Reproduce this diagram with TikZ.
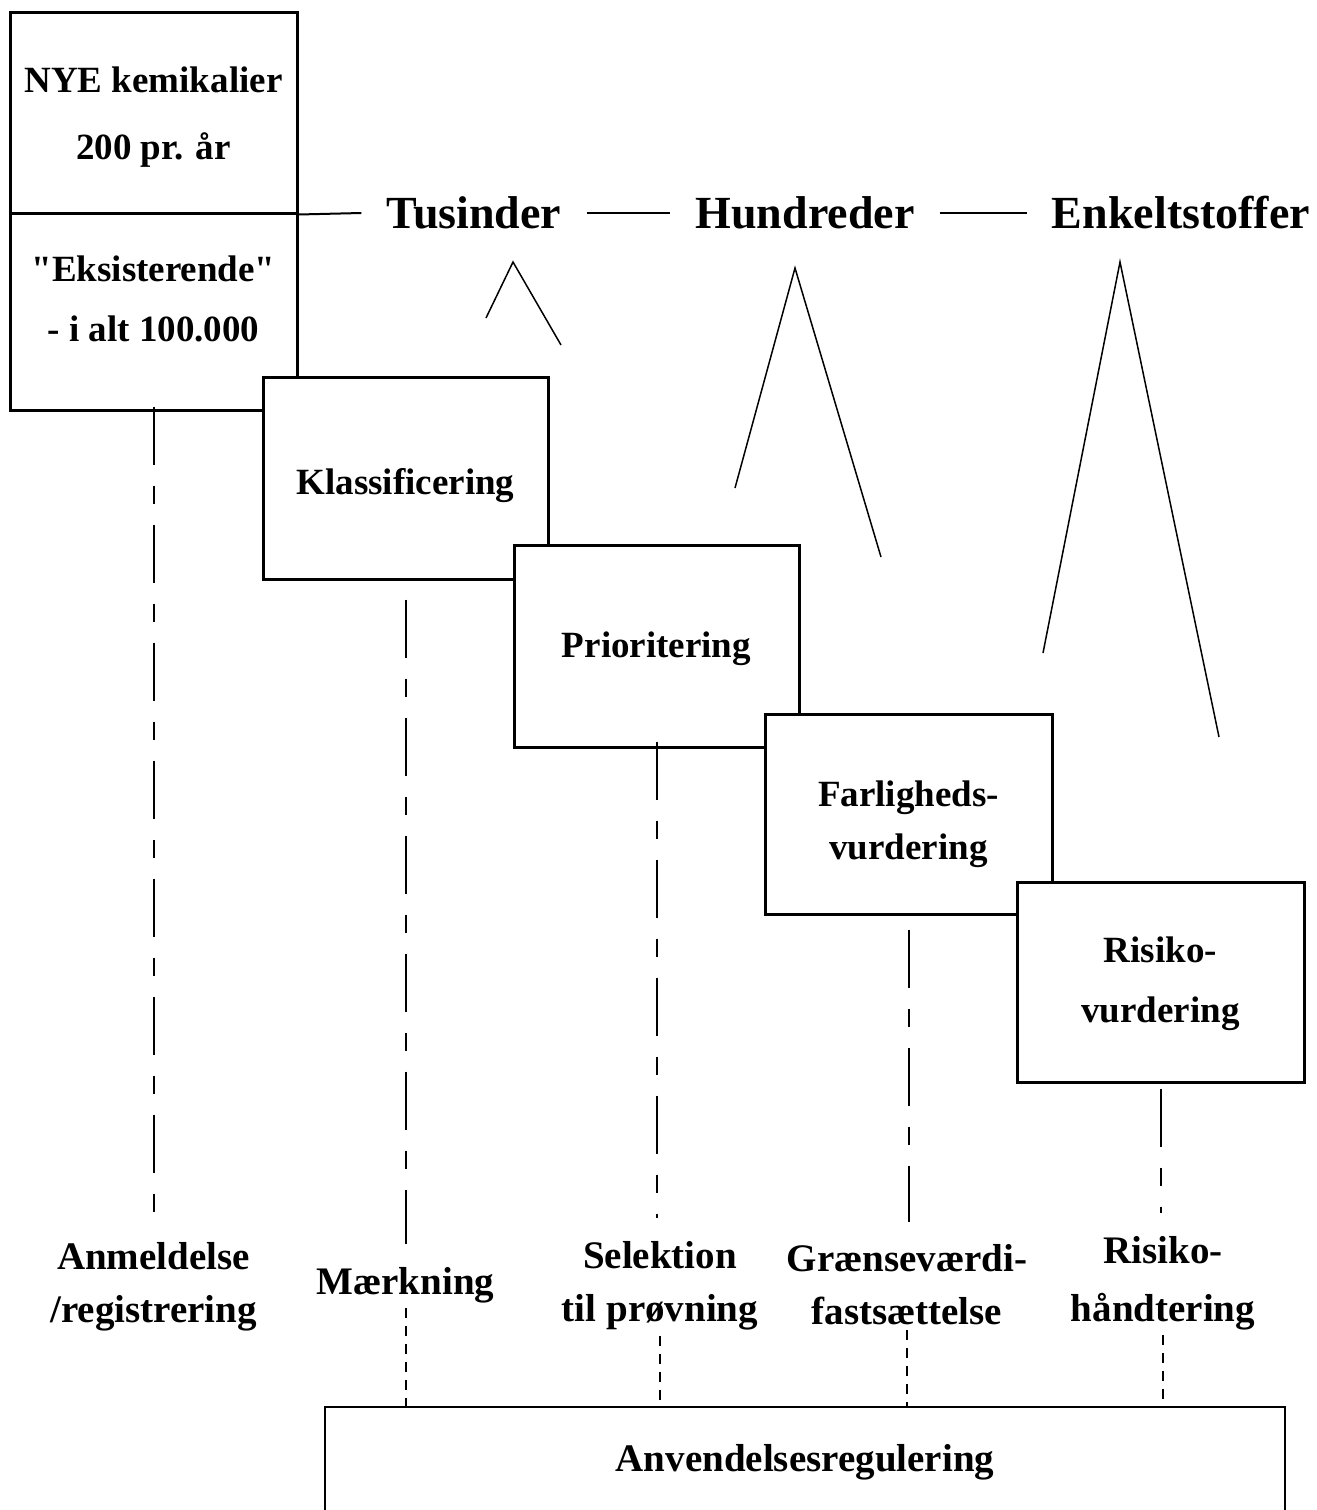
\documentclass[tikz,border=0pt]{standalone}
\usepackage{fontspec}
\setmainfont{Liberation Serif}
\usetikzlibrary{positioning}
\tikzset{stage/.style = {draw, line width=3, fill=white, inner sep=0, align=center,
                         font=\bfseries\fontsize{37}{60}\selectfont}}
\tikzset{title/.style = {inner xsep=25, font=\bfseries\fontsize{46}{54}\selectfont}}
\tikzset{outcome/.style = {inner sep=5, align=center, font=\bfseries\fontsize{39}{53}\selectfont}}
\tikzset{guide/.style = {line width=2, dash pattern=on 58pt off 21pt on 18pt off 21pt, shorten >=18pt}}
\tikzset{tie/.style = {line width=2, dash pattern=on 10pt off 8pt}}

\begin{document}
\begin{tikzpicture}[x=1pt, y=-1pt]
    \useasboundingbox (0,0) rectangle (1317,1510);

    \node [stage, minimum width=287, minimum height=201, text height=102pt, font=\bfseries\fontsize{37}{67}\selectfont] (nye) at (153.5,112.5) {NYE kemikalier\\200 pr. år};
    \node [stage, minimum width=287, minimum height=197, text depth=26pt] (eks) at (153.5,311.5) {\textquotedbl Eksisterende\textquotedbl\\- i alt 100.000};
    \node [stage, minimum width=285, minimum height=202, text height=41.5pt] (klass) at (405.5,478) {Klassificering};
    \node [stage, minimum width=285, minimum height=202, text height=31.5pt] (prior) at (656.5,646) {Prioritering};
    \node [stage, minimum width=287, minimum height=200, text height=100pt, font=\bfseries\fontsize{37}{53}\selectfont] (farlig) at (908.5,814) {Farligheds-\\vurdering};
    \node [stage, minimum width=287, minimum height=200, text height=89pt] (risiko) at (1160.5,982) {Risiko-\\vurdering};

    \node [title] (tus) at (474,213) {Tusinder};
    \node [title] (hun) at (805,213) {Hundreder};
    \node [title] (enk) at (1181,213) {Enkeltstoffer};
    \draw [line width=2] (nye.south east) -- (tus.west);
    \draw [line width=2] (tus.east) -- (hun.west);
    \draw [line width=2] (hun.east) -- (enk.west);

    \draw [line width=1.5] (486,318) -- (513,262) -- (561,345);
    \draw [line width=1.5] (735,488) -- (795,268) -- (881,557);
    \draw [line width=1.5] (1043,653) -- (1120,262) -- (1219,737);

    \node [outcome] (anm) at (153.5,1287) {Anmeldelse\\/registrering};
    \node [outcome] (maerk) at (405.5,1285) {Mærkning};
    \node [outcome] (sel) at (660,1286) {Selektion\\til prøvning};
    \node [outcome] (graense) at (907,1285) {Grænseværdi-\\fastsættelse};
    \node [outcome, font=\bfseries\fontsize{39}{58}\selectfont] (rhaand) at (1163,1283) {Risiko-\\håndtering};

    \node [minimum width=960, minimum height=110, font=\bfseries\fontsize{39}{44}\selectfont] (regul) at (805,1462) {Anvendelsesregulering};
    \draw [line width=2] (regul.south west) |- (regul.north east) -- (regul.south east);

    \draw [guide] ([yshift=5pt]eks.south) -- (eks.south |- anm.north);
    \draw [guide] ([yshift=-19pt]klass.south) -- (klass.south |- maerk.north);
    \draw [guide] ([yshift=7pt]prior.south) -- (prior.south |- sel.north);
    \draw [guide] ([yshift=-14pt]farlig.south) -- (farlig.south |- graense.north);
    \draw [guide] ([yshift=-5pt]risiko.south) -- (risiko.south |- rhaand.north);

    \draw [tie] (maerk.south) -- (maerk.south |- regul.north);
    \draw [tie] (sel.south) -- (sel.south |- regul.north);
    \draw [tie] (graense.south) -- (graense.south |- regul.north);
    \draw [tie] (rhaand.south) -- (rhaand.south |- regul.north);
\end{tikzpicture}
\end{document}
